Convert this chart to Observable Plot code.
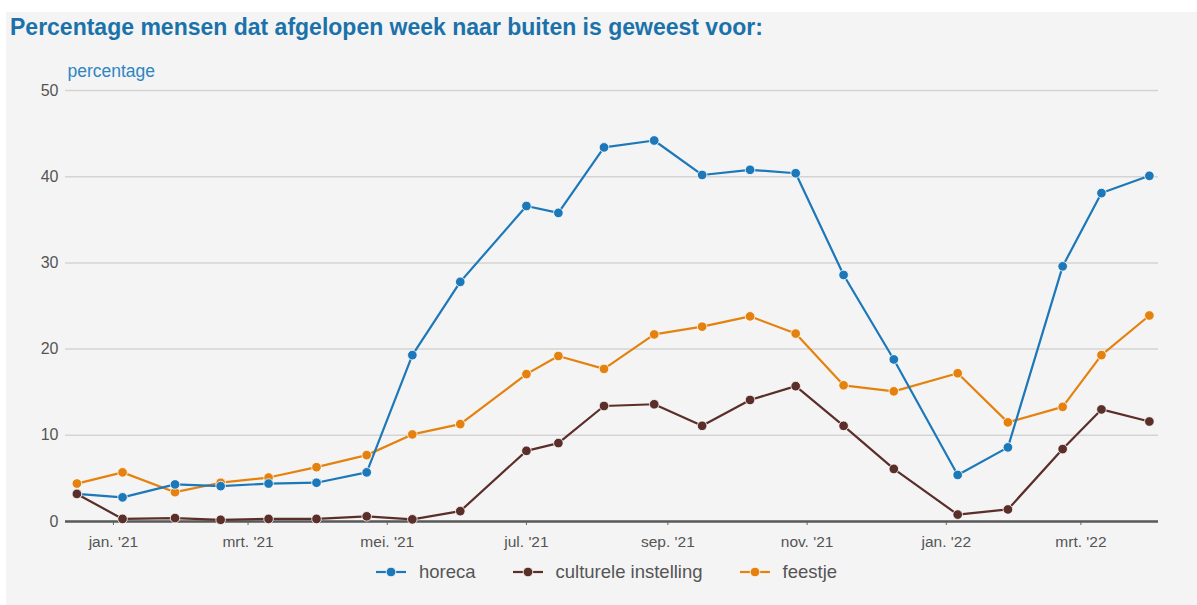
<!DOCTYPE html>
<html>
<head>
<meta charset="utf-8">
<script src="https://cdn.jsdelivr.net/npm/d3@7"></script>
<script src="https://cdn.jsdelivr.net/npm/@observablehq/plot@0.6"></script>
<style>
  html, body { margin: 0; padding: 0; background: #ffffff; width: 1197px; height: 605px; overflow: hidden; }
  #frame { position: absolute; left: 6px; top: 12px; width: 1191px; height: 593px; background: #f4f4f4; }
  #title { position: absolute; left: 10px; top: 14px; font-family: "Liberation Sans", Arial, sans-serif; font-weight: bold; font-size: 23px; color: #1b72ab; white-space: nowrap; }
  #chart { position: absolute; left: 0; top: 50px; }
  #legend { position: absolute; left: 0; top: 561px; width: 1197px; display: flex; justify-content: center; padding-left: 15px; box-sizing: border-box;
            font-family: "Liberation Sans", Arial, sans-serif; font-size: 18.5px; color: #555; }
  .item { display: flex; align-items: center; margin: 0 18px; }
  .item svg { margin-right: 12px; }
</style>
</head>
<body>
<div id="frame"></div>
<div id="title">Percentage mensen dat afgelopen week naar buiten is geweest voor:</div>
<div id="chart"></div>
<div id="legend"></div>
<script>
// ---- data ----
const dates = ["2020-12-16","2021-01-05","2021-01-28","2021-02-17","2021-03-10","2021-03-31","2021-04-22","2021-05-12","2021-06-02","2021-07-01","2021-07-15","2021-08-04","2021-08-26","2021-09-16","2021-10-07","2021-10-27","2021-11-17","2021-12-09","2022-01-06","2022-01-28","2022-02-21","2022-03-10","2022-03-31"];
const horeca = [3.2, 2.8, 4.3, 4.1, 4.4, 4.5, 5.7, 19.3, 27.8, 36.6, 35.8, 43.4, 44.2, 40.2, 40.8, 40.4, 28.6, 18.8, 5.4, 8.6, 29.6, 38.1, 40.1];
const cultuur = [3.2, 0.3, 0.4, 0.2, 0.3, 0.3, 0.6, 0.25, 1.2, 8.2, 9.1, 13.4, 13.6, 11.1, 14.1, 15.7, 11.1, 6.1, 0.8, 1.4, 8.4, 13.0, 11.6];
const feestje = [4.4, 5.7, 3.4, 4.5, 5.1, 6.3, 7.7, 10.1, 11.3, 17.1, 19.2, 17.7, 21.7, 22.6, 23.8, 21.8, 15.8, 15.1, 17.2, 11.5, 13.3, 19.3, 23.9];
const seriesNames = ["horeca", "culturele instelling", "feestje"];
const seriesColors = ["#1c78b8", "#5a2e29", "#e5820f"];
const tickDates = ["2021-01-01","2021-03-01","2021-05-01","2021-07-01","2021-09-01","2021-11-01","2022-01-01","2022-03-01"];
const tickLabels = ["jan. '21","mrt. '21","mei. '21","jul. '21","sep. '21","nov. '21","jan. '22","mrt. '22"];
const yTicks = [0, 10, 20, 30, 40, 50];
const yLabel = "percentage";

// ---- build table ----
const valuesBySeries = {"horeca": horeca, "culturele instelling": cultuur, "feestje": feestje};
const drawOrder = ["feestje", "horeca", "culturele instelling"];
const data = [];
for (const s of drawOrder) {
  valuesBySeries[s].forEach((v, i) => data.push({series: s, date: new Date(dates[i] + "T00:00:00Z"), value: v}));
}
const tickDateObjs = tickDates.map(d => new Date(d + "T00:00:00Z"));
const labelMap = new Map(tickDates.map((d, i) => [d, tickLabels[i]]));

const plot = Plot.plot({
  width: 1197,
  height: 510,
  marginLeft: 65,
  marginRight: 39,
  marginTop: 40,
  marginBottom: 39,
  style: {background: "transparent", fontFamily: "'Liberation Sans', Arial, sans-serif", fontSize: "15px", color: "#555"},
  x: {type: "utc", domain: [new Date("2020-12-11T00:00:00Z"), new Date("2022-04-04T00:00:00Z")]},
  y: {domain: [0, 50]},
  color: {domain: seriesNames, range: seriesColors},
  marks: [
    Plot.gridY(yTicks, {stroke: "#d4d4d4", strokeOpacity: 1, strokeWidth: 1.5}),
    Plot.axisY(yTicks, {tickSize: 0, tickPadding: 7, label: null, fontSize: 16, fill: "#555"}),
    Plot.axisX(tickDateObjs, {tickSize: 4, tickPadding: 10, label: null, stroke: "#666",
      tickFormat: d => labelMap.get(d.toISOString().slice(0, 10)), fontSize: 15.5, fill: "#555"}),
    Plot.ruleY([0], {stroke: "#5a5a5a", strokeWidth: 2.5}),
    Plot.text([yLabel], {frameAnchor: "top-left", lineAnchor: "middle", textAnchor: "start", dx: 2, dy: -19, fill: "#2e86c1", fontSize: 17.5}),
    Plot.line(data, {x: "date", y: "value", z: "series", stroke: "series", strokeWidth: 2.2}),
    Plot.dot(data, {x: "date", y: "value", fill: "series", r: 4.8, stroke: "#fff", strokeOpacity: 0.8, strokeWidth: 1})
  ]
});
document.getElementById("chart").appendChild(plot);

// ---- legend ----
const legend = document.getElementById("legend");
seriesNames.forEach((name, i) => {
  const item = document.createElement("div");
  item.className = "item";
  item.innerHTML = `<svg width="32" height="14"><line x1="1" y1="7" x2="31" y2="7" stroke="${seriesColors[i]}" stroke-width="2.2"/><circle cx="16" cy="7" r="4.8" fill="${seriesColors[i]}" stroke="#fff" stroke-opacity="0.8"/></svg><span>${name}</span>`;
  legend.appendChild(item);
});
</script>
</body>
</html>
